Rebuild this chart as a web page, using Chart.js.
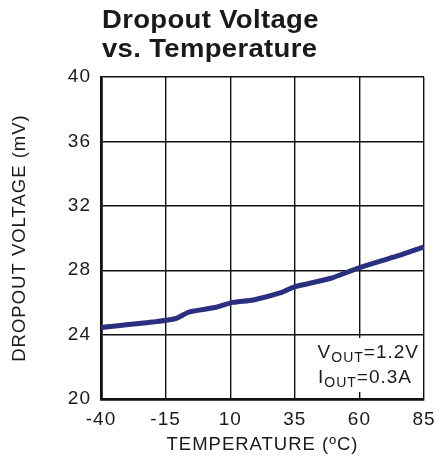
<!DOCTYPE html>
<html><head><meta charset="utf-8">
<script src="https://cdn.jsdelivr.net/npm/chart.js@4/dist/chart.umd.min.js"></script>
<style>html,body{margin:0;padding:0;background:#fff}#wrap{width:438px;height:460px}</style>
</head><body><div id="wrap"><canvas id="c" width="438" height="460"></canvas></div>
<script>
const temps = [-40, -20, -11, -6, 4.6, 11, 19, 29.6, 34.6, 49, 59, 75, 85];
const dropout = [24.45, 24.78, 25.0, 25.4, 25.7, 26.0, 26.15, 26.6, 26.95, 27.5, 28.1, 28.9, 29.45];
const xTicks = [-40, -15, 10, 35, 60, 85];
const yTicks = [20, 24, 28, 32, 36, 40];
const titleLines = ['Dropout Voltage', 'vs. Temperature'];
const FONT = '"Liberation Sans", Arial, sans-serif';

const overlay = {
  id: 'overlay',
  beforeDraw(chart) {
    chart.ctx.letterSpacing = '1px';
  },
  afterDraw(chart) {
    const ctx = chart.ctx, a = chart.chartArea;
    ctx.save();
    ctx.fillStyle = '#1a1a1a';
    ctx.textBaseline = 'alphabetic';
    ctx.textAlign = 'left';
    ctx.save();
    ctx.translate(102, 0);
    ctx.scale(1.1, 1);
    ctx.letterSpacing = '0.3px';
    ctx.font = 'bold 25px ' + FONT;
    ctx.fillText(titleLines[0], 0, 28);
    ctx.fillText(titleLines[1], 0, 57);
    ctx.restore();
    // annotation box
    ctx.fillStyle = '#fff';
    ctx.fillRect(306, 338, a.right - 307, a.bottom - 338 - 7);
    ctx.fillStyle = '#1a1a1a';
    ctx.letterSpacing = '1px';
    const drawSub = (main, sub, rest, right, base) => {
      ctx.font = '19px ' + FONT;
      const w1 = ctx.measureText(main).width, w3 = ctx.measureText(rest).width;
      ctx.font = '14px ' + FONT;
      const w2 = ctx.measureText(sub).width;
      let x = right - w1 - w2 - w3;
      ctx.textAlign = 'left';
      ctx.font = '19px ' + FONT; ctx.fillText(main, x, base); x += w1;
      ctx.font = '14px ' + FONT; ctx.fillText(sub, x, base + 4); x += w2;
      ctx.font = '19px ' + FONT; ctx.fillText(rest, x, base);
    };
    drawSub('V', 'OUT', '=1.2V', 419, 358);
    drawSub('I', 'OUT', '=0.3A', 412, 383);
    ctx.restore();
  }
};

new Chart(document.getElementById('c'), {
  type: 'line',
  data: { datasets: [{
    data: temps.map((t, i) => ({x: t, y: dropout[i]})),
    borderColor: '#2b2f7f', borderWidth: 5, pointRadius: 0, tension: 0.25, fill: false
  }]},
  options: {
    responsive: false, animation: false,
    layout: { padding: { top: 77, right: 14, left: 0, bottom: 0 } },
    plugins: { legend: { display: false }, tooltip: { enabled: false } },
    scales: {
      x: {
        type: 'linear', min: -40, max: 85,
        afterBuildTicks(s) { s.ticks = xTicks.map(v => ({value: v})); },
        afterFit(s) { s.height = 61; s.paddingLeft = 0; s.paddingRight = 0; },
        ticks: { color: '#1a1a1a', font: { family: FONT, size: 19 }, padding: 9, maxRotation: 0 },
        grid: { color: '#111', lineWidth: 1.4, drawTicks: false },
        border: { color: '#111', width: 2.8 },
        title: { display: true, text: 'TEMPERATURE (ºC)', color: '#1a1a1a', font: { family: FONT, size: 18.5 }, padding: { top: 0, bottom: 4 } }
      },
      y: {
        min: 20, max: 40,
        afterBuildTicks(s) { s.ticks = yTicks.map(v => ({value: v})); },
        afterFit(s) { s.width = 101; s.paddingTop = 0; s.paddingBottom = 0; },
        ticks: { color: '#1a1a1a', font: { family: FONT, size: 19 }, padding: 10 },
        grid: { color: '#111', lineWidth: 1.4, drawTicks: false },
        border: { color: '#111', width: 2.8 },
        title: { display: true, text: 'DROPOUT VOLTAGE (mV)', color: '#1a1a1a', font: { family: FONT, size: 18.5 }, padding: { bottom: 0, top: 9 } }
      }
    }
  },
  plugins: [overlay]
});
</script></body></html>
